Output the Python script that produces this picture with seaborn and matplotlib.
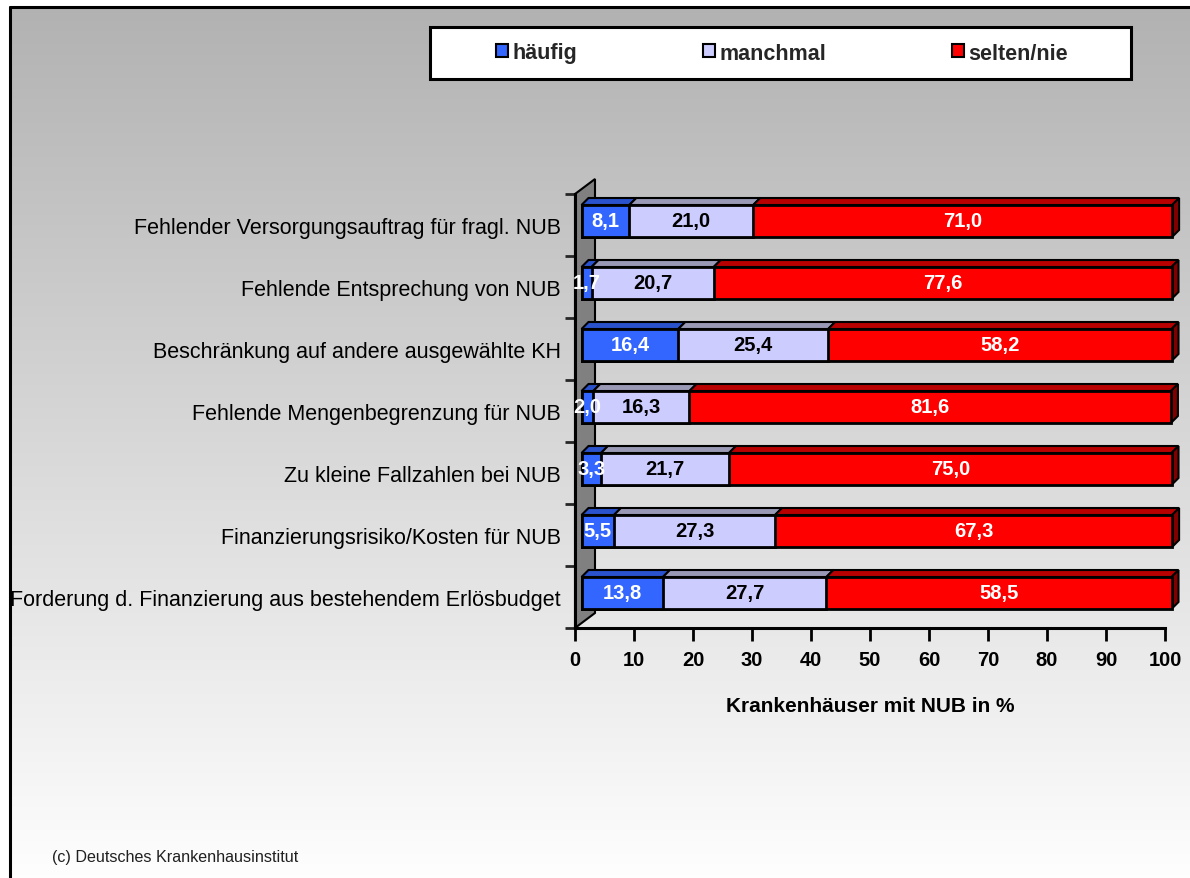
import numpy as np
import matplotlib
matplotlib.use("Agg")
import matplotlib.pyplot as plt
import seaborn as sns
from matplotlib.patches import Polygon, Rectangle, Patch
from matplotlib.lines import Line2D
from matplotlib.colors import LinearSegmentedColormap
from matplotlib.transforms import ScaledTranslation

# ---------------- data ----------------
categories = [
    "Fehlender Versorgungsauftrag für fragl. NUB",
    "Fehlende Entsprechung von NUB",
    "Beschränkung auf andere ausgewählte KH",
    "Fehlende Mengenbegrenzung für NUB",
    "Zu kleine Fallzahlen bei NUB",
    "Finanzierungsrisiko/Kosten für NUB",
    "Forderung d. Finanzierung aus bestehendem Erlösbudget",
]
haeufig = [8.1, 1.7, 16.4, 2.0, 3.3, 5.5, 13.8]
manchmal = [21.0, 20.7, 25.4, 16.3, 21.7, 27.3, 27.7]
selten = [71.0, 77.6, 58.2, 81.6, 75.0, 67.3, 58.5]
series_names = ["häufig", "manchmal", "selten/nie"]
x_ticks = [0, 10, 20, 30, 40, 50, 60, 70, 80, 90, 100]
x_title = "Krankenhäuser mit NUB in %"
credit = "(c) Deutsches Krankenhausinstitut"

# ---------------- style ----------------
front_colors = ["#3366FF", "#CCCCFF", "#FF0000"]
top_colors = ["#2A52CC", "#9999B5", "#B80000"]
side_color = "#800000"
text_colors = ["white", "black", "white"]

W, H, DPI = 1190, 879, 100
sns.set_theme(style="white")
plt.rcParams["font.family"] = ["Liberation Sans", "DejaVu Sans"]

fig = plt.figure(figsize=(W / DPI, H / DPI), dpi=DPI)
fig.patch.set_facecolor("white")

# background gradient panel
bg = fig.add_axes([10 / W, 0, 1 - 10 / W, 1 - 8 / H], zorder=0)
grad = np.linspace(0, 1, 256)[:, None]
bg.imshow(grad, aspect="auto", extent=[0, 1, 0, 1],
          cmap=LinearSegmentedColormap.from_list("g", ["#b2b2b2", "#fefefe"]))
bg.axis("off")
fig.add_artist(Line2D([10 / W, 10 / W], [0, 1 - 8 / H], transform=fig.transFigure,
                      color="black", lw=2.2, zorder=5))
fig.add_artist(Line2D([10 / W, 1], [1 - 8 / H, 1 - 8 / H], transform=fig.transFigure,
                      color="black", lw=2.2, zorder=5))

# main axes
ax_l, ax_b, ax_w, ax_h = 575, 629, 590, 434  # pixels
ax = fig.add_axes([ax_l / W, 1 - ax_b / H, ax_w / W, ax_h / H], zorder=2)
ax.patch.set_alpha(0)

n = len(categories)
h = np.array(haeufig)
m = np.array(manchmal)
s = np.array(selten)
starts = [np.zeros(n), h, h + m]
ends = [h, h + m, h + m + s]

bar_w = 0.516
# stacked front faces via seaborn (widest first)
for k in [2, 1, 0]:
    sns.barplot(x=ends[k], y=categories, orient="h", color=front_colors[k],
                saturation=1, width=bar_w, edgecolor="black", linewidth=2,
                errorbar=None, ax=ax, zorder=4)

ax.set_xlim(0, 100)
ax.set_ylim(n - 0.5, -0.5)

# pixel -> data scale
px_x = ax_w / 100.0
px_y = ax_h / n
shift = ax.transData + ScaledTranslation(6.5 / DPI, 4 / DPI, fig.dpi_scale_trans)
for p in ax.patches:
    p.set_transform(shift)
    p.set_clip_on(False)

ddx = 7 / px_x
ddy = 7 / px_y

# 3D wall on the left
wx, wy = 20 / px_x, 15 / px_y
wall = Polygon([(0, n - 0.5), (0, -0.5), (wx, -0.5 - wy), (wx, n - 0.5 - wy)],
               closed=True, facecolor="#808080", edgecolor="black", lw=1.5,
               clip_on=False, zorder=1)
ax.add_patch(wall)

# top and side faces + labels
for i in range(n):
    yt = i - bar_w / 2
    yb = i + bar_w / 2
    for k in range(3):
        a, b = starts[k][i], ends[k][i]
        top = Polygon([(a, yt), (b, yt), (b + ddx, yt - ddy), (a + ddx, yt - ddy)],
                      closed=True, facecolor=top_colors[k], edgecolor="black",
                      lw=1.5, transform=shift, clip_on=False, zorder=3)
        ax.add_patch(top)
        val = [haeufig, manchmal, selten][k][i]
        ax.text((a + b) / 2, i, f"{val:.1f}".replace(".", ","), transform=shift,
                ha="center", va="center", fontsize=14.5, fontweight="bold",
                color=text_colors[k], zorder=6, clip_on=False)
    b = ends[2][i]
    side = Polygon([(b, yt), (b + ddx, yt - ddy), (b + ddx, yb - ddy), (b, yb)],
                   closed=True, facecolor=side_color, edgecolor="black", lw=1.5,
                   transform=shift, clip_on=False, zorder=3)
    ax.add_patch(side)

# axes styling
for sp in ["top", "right"]:
    ax.spines[sp].set_visible(False)
for sp in ["left", "bottom"]:
    ax.spines[sp].set_color("black")
    ax.spines[sp].set_linewidth(2.2)
ax.set_xticks(x_ticks)
ax.set_xticklabels([str(t) for t in x_ticks], fontsize=14.5, fontweight="bold")
ax.set_yticks(range(n))
ax.set_yticklabels(categories, fontsize=15.5)
ax.set_yticks(np.arange(-0.5, n, 1.0), minor=True)
ax.tick_params(axis="x", which="major", bottom=True, length=9, width=2,
               direction="out", pad=7, colors="black")
ax.tick_params(axis="y", which="major", left=True, length=0, pad=10, colors="black")
ax.tick_params(axis="y", which="minor", left=True, length=7, width=2, direction="out")
ax.set_xlabel(x_title, fontsize=15, fontweight="bold", labelpad=19, color="black")
ax.set_ylabel("")
ax.grid(False)

# legend
fig.add_artist(Rectangle((430 / W, 1 - 80 / H), 701 / W, 52 / H, transform=fig.transFigure,
                         facecolor="white", edgecolor="black", lw=2.2, zorder=6))
handles = [Patch(facecolor=c, edgecolor="black", lw=1.5) for c in front_colors]
leg = fig.legend(handles, series_names, loc="center", bbox_to_anchor=(782 / W, 1 - 54 / H),
                 ncol=3, frameon=False, prop={"size": 15.5, "weight": "bold"},
                 handlelength=0.55, handleheight=0.55, handletextpad=0.2,
                 columnspacing=5.85)
leg.set_zorder(7)

fig.text(52 / W, 1 - 858 / H, credit, fontsize=11.6, ha="left", va="center", color="#202020")

fig.savefig("out.png", dpi=DPI)
